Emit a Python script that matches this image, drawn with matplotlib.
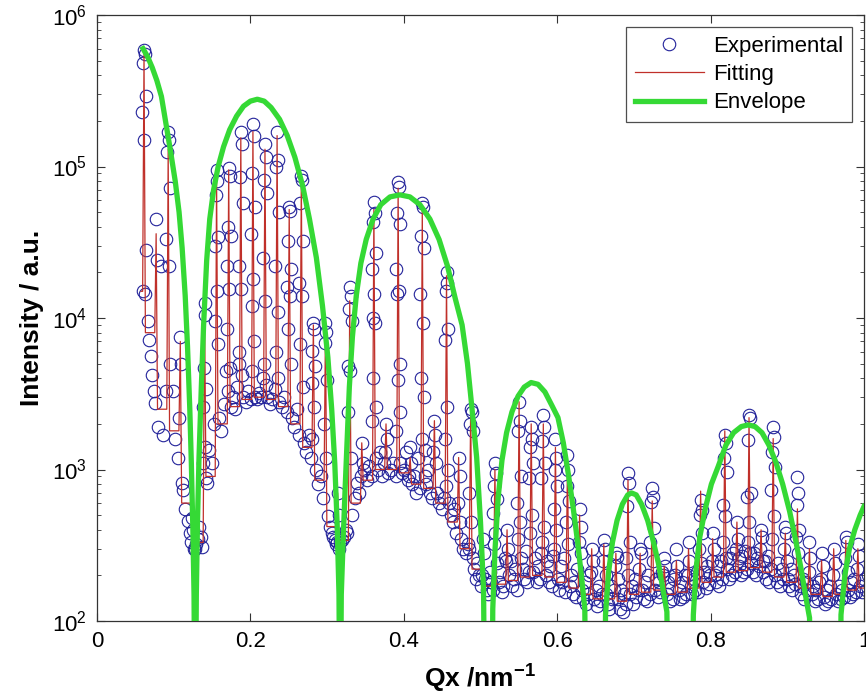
import numpy as np
import matplotlib
matplotlib.use("Agg")
import matplotlib.pyplot as plt
from matplotlib.ticker import FixedLocator, LogLocator, NullLocator


# ------------------------------------------------------------
# 1. Data
# ------------------------------------------------------------

# Superlattice fringe positions along Qx (nm^-1)
fringe_q = [
    0.0613, 0.0771, 0.0928, 0.1086, 0.1244, 0.1402, 0.1559, 0.1717, 0.1875, 0.2033,
    0.2190, 0.2348, 0.2506, 0.2664, 0.2821, 0.2979, 0.3137, 0.3295, 0.3452, 0.3610,
    0.3768, 0.3926, 0.4083, 0.4241, 0.4399, 0.4557, 0.4715, 0.4872, 0.5030, 0.5188,
    0.5346, 0.5503, 0.5661, 0.5819, 0.5977, 0.6134, 0.6292, 0.6450, 0.6608, 0.6765,
    0.6923, 0.7081, 0.7239, 0.7396, 0.7554, 0.7712, 0.7870, 0.8027, 0.8185, 0.8343,
    0.8501, 0.8658, 0.8816, 0.8974, 0.9132, 0.9289, 0.9447, 0.9605, 0.9763, 0.9920,
]

# Fitted intensity at the top of each fringe
fit_peak = [
    5.5e5, 3.6e4, 1.3e5, 7.0e3, 5.0e2, 1.2e4, 8.5e4, 9.5e4, 1.55e5, 1.7e5,
    1.3e5, 1.6e5, 5.2e4, 8.5e4, 9.0e3, 9.0e3, 7.0e2, 1.3e4, 1.5e3, 5.2e4,
    2.0e3, 7.2e4, 1.2e3, 5.3e4, 2.1e3, 1.9e4, 1.2e3, 2.5e3, 3.0e2, 1.0e3,
    4.0e2, 2.8e3, 2.0e3, 2.0e3, 1.4e3, 1.1e3, 5.0e2, 3.0e2, 3.2e2, 2.8e2,
    8.5e2, 2.8e2, 6.2e2, 2.3e2, 2.5e2, 3.0e2, 7.2e2, 3.5e2, 1.8e3, 4.5e2,
    2.2e3, 4.0e2, 1.6e3, 3.8e2, 5.5e2, 3.0e2, 2.5e2, 3.0e2, 3.4e2, 3.0e2,
]

# Fitted trough between fringe n and fringe n+1
fit_start = 1.5e4
fit_floor = [
    8.0e3, 2.5e3, 1.8e3, 6.0e2, 3.3e2, 9.0e2, 2.0e3, 2.6e3, 2.9e3, 3.0e3,
    2.9e3, 2.6e3, 2.0e3, 1.4e3, 8.5e2, 4.2e2, 3.4e2, 6.0e2, 8.5e2, 1.0e3,
    1.0e3, 9.5e2, 8.0e2, 7.5e2, 6.0e2, 4.5e2, 3.0e2, 2.2e2, 1.7e2, 1.75e2,
    1.85e2, 1.95e2, 2.0e2, 1.95e2, 1.8e2, 1.65e2, 1.5e2, 1.4e2, 1.4e2, 1.35e2,
    1.5e2, 1.55e2, 1.6e2, 1.5e2, 1.55e2, 1.65e2, 1.8e2, 1.95e2, 2.1e2, 2.15e2,
    2.25e2, 2.1e2, 1.95e2, 1.8e2, 1.65e2, 1.5e2, 1.45e2, 1.5e2, 1.6e2, 1.65e2,
]

# Measured intensities sampled across each fringe
exp_on_fringe = [
    [5.9e5, 5.5e5, 4.8e5, 2.9e5, 2.3e5, 1.5e5, 1.5e4, 1.45e4],
    [4.5e4, 2.4e4, 2.75e3],
    [1.7e5, 1.5e5, 1.25e5, 7.2e4, 3.3e4, 2.2e4],
    [7.5e3, 5.0e3, 2.2e3, 8.2e2],
    [4.8e2, 4.0e2, 3.3e2, 3.0e2],
    [1.25e4, 1.05e4, 4.7e3, 3.4e3, 2.6e3, 1.4e3, 1.1e3, 8.8e2],
    [9.5e4, 8.0e4, 6.5e4, 3.4e4, 3.0e4, 1.5e4, 9.6e3, 6.7e3],
    [9.8e4, 8.6e4, 4.0e4, 3.5e4, 2.2e4, 1.55e4, 8.5e3, 4.7e3, 3.3e3],
    [1.7e5, 1.4e5, 8.5e4, 5.7e4, 2.2e4, 1.55e4, 6.0e3, 4.2e3],
    [1.9e5, 1.6e5, 9.0e4, 5.4e4, 3.6e4, 1.8e4, 1.2e4, 7.0e3, 4.5e3],
    [1.4e5, 1.15e5, 8.2e4, 6.7e4, 2.5e4, 1.3e4, 5.0e3, 3.6e3],
    [1.7e5, 1.1e5, 1.0e5, 5.0e4, 2.2e4, 1.1e4, 6.0e3, 4.0e3],
    [5.4e4, 5.1e4, 3.2e4, 2.1e4, 1.6e4, 1.4e4, 8.5e3, 5.0e3],
    [8.6e4, 8.2e4, 5.7e4, 3.2e4, 1.7e4, 1.4e4, 6.7e3, 3.5e3],
    [9.2e3, 8.4e3, 6.1e3, 4.8e3, 3.7e3, 2.6e3, 1.6e3],
    [9.3e3, 8.1e3, 6.8e3, 3.9e3, 2.0e3, 1.2e3],
    [7.0e2, 5.0e2, 3.3e2, 3.0e2, 3.2e2],
    [1.6e4, 1.4e4, 1.15e4, 9.5e3, 4.8e3, 4.5e3, 2.4e3, 1.2e3],
    [1.5e3, 1.1e3, 9.0e2],
    [5.8e4, 4.9e4, 4.3e4, 2.7e4, 2.1e4, 1.45e4, 1.0e4, 9.2e3, 4.0e3, 2.6e3, 2.1e3],
    [2.0e3, 1.6e3, 1.3e3],
    [7.9e4, 7.3e4, 4.9e4, 4.2e4, 2.1e4, 1.5e4, 1.45e4, 5.0e3, 3.9e3, 2.4e3, 1.8e3],
    [1.4e3, 1.1e3, 9.0e2],
    [5.7e4, 5.4e4, 3.5e4, 2.9e4, 1.45e4, 9.2e3, 4.0e3, 3.0e3, 1.6e3, 1.35e3],
    [2.1e3, 1.7e3, 1.3e3, 1.1e3],
    [2.0e4, 1.7e4, 1.5e4, 8.5e3, 7.2e3, 2.6e3, 1.6e3, 1.0e3, 7.8e2],
    [1.2e3, 9.0e2, 6.0e2, 4.5e2],
    [2.5e3, 2.4e3, 2.0e3, 1.8e3, 7.0e2, 4.5e2, 3.0e2],
    [3.5e2, 2.8e2, 2.0e2],
    [1.1e3, 9.5e2, 7.8e2, 6.4e2, 5.2e2, 3.8e2, 3.2e2],
    [4.0e2, 3.0e2, 2.5e2],
    [2.8e3, 2.1e3, 1.8e3, 9.0e2, 6.0e2, 4.5e2, 3.5e2],
    [1.9e3, 1.6e3, 1.4e3, 1.1e3, 8.8e2, 5.0e2, 3.8e2],
    [2.3e3, 1.9e3, 1.55e3, 1.1e3, 8.8e2, 4.2e2, 3.3e2],
    [1.6e3, 1.2e3, 1.0e3, 7.8e2, 5.5e2, 4.0e2, 3.0e2],
    [1.25e3, 1.0e3, 7.8e2, 6.2e2, 4.5e2, 3.2e2],
    [5.5e2, 4.2e2, 3.3e2, 2.8e2],
    [3.0e2, 2.5e2, 2.1e2],
    [3.4e2, 3.0e2, 2.5e2, 2.0e2],
    [2.8e2, 2.65e2, 2.3e2, 1.9e2],
    [9.5e2, 8.2e2, 5.7e2, 3.3e2, 2.6e2, 2.0e2],
    [3.0e2, 2.8e2, 2.2e2],
    [7.6e2, 6.6e2, 6.1e2, 4.1e2, 3.3e2, 2.5e2],
    [2.6e2, 2.3e2, 2.0e2],
    [3.0e2, 2.3e2, 2.0e2],
    [3.3e2, 2.5e2, 2.0e2],
    [6.3e2, 5.4e2, 5.0e2, 3.8e2, 3.0e2, 2.4e2],
    [3.8e2, 3.0e2, 2.5e2],
    [1.7e3, 1.5e3, 1.2e3, 9.6e2, 5.8e2, 4.9e2, 3.3e2, 2.6e2],
    [4.5e2, 3.5e2, 3.0e2, 2.6e2],
    [2.3e3, 2.2e3, 1.56e3, 7.0e2, 6.6e2, 4.5e2, 3.3e2, 2.8e2],
    [4.0e2, 3.6e2, 3.0e2, 2.5e2],
    [1.9e3, 1.65e3, 1.3e3, 1.04e3, 7.3e2, 4.9e2, 3.5e2],
    [4.2e2, 3.8e2, 3.0e2, 2.5e2],
    [8.9e2, 7.0e2, 5.8e2, 4.0e2, 3.6e2, 2.8e2],
    [3.3e2, 2.6e2, 2.1e2],
    [2.8e2, 2.3e2, 1.9e2],
    [3.0e2, 2.4e2, 2.0e2],
    [3.6e2, 3.3e2, 2.6e2, 2.1e2],
    [3.2e2, 2.7e2, 2.2e2],
]

# Measured intensities in the gap that follows each fringe
exp_in_gap = [
    [2.8e4, 9.5e3, 7.2e3, 5.6e3, 4.2e3, 3.3e3],
    [1.9e3, 2.2e4, 1.7e3, 3.3e3],
    [5.0e3, 3.3e3, 1.6e3, 1.2e3],
    [7.3e2, 5.5e2, 4.6e2, 3.8e2],
    [3.0e2, 3.2e2, 3.5e2, 4.2e2, 3.6e2, 3.1e2],
    [8.2e2, 1.35e3, 1.1e3, 2.0e3],
    [2.2e3, 1.8e3, 2.7e3, 4.5e3],
    [2.6e3, 3.0e3, 2.5e3, 3.5e3, 5.0e3],
    [3.0e3, 2.8e3, 3.3e3, 2.9e3],
    [3.0e3, 2.9e3, 3.2e3, 3.0e3, 4.0e3],
    [3.0e3, 2.7e3, 2.9e3, 3.4e3],
    [2.8e3, 2.6e3, 3.0e3, 2.4e3],
    [2.2e3, 1.9e3, 2.5e3, 1.7e3],
    [1.5e3, 1.3e3, 1.7e3, 1.2e3],
    [1.0e3, 8.0e2, 9.0e2, 6.5e2],
    [4.9e2, 4.2e2, 3.8e2, 3.6e2, 3.4e2],
    [3.3e2, 3.4e2, 3.6e2, 4.0e2, 3.8e2],
    [5.0e2, 6.5e2, 8.2e2, 7.0e2],
    [1.0e3, 8.5e2, 1.05e3, 9.0e2],
    [1.2e3, 1.0e3, 1.3e3, 9.0e2, 1.1e3],
    [9.5e2, 1.0e3, 1.1e3, 9.0e2],
    [1.1e3, 9.5e2, 1.0e3, 1.3e3, 8.5e2],
    [8.0e2, 9.0e2, 7.0e2, 1.2e3, 7.5e2],
    [9.0e2, 8.0e2, 1.0e3, 7.0e2, 6.5e2],
    [7.0e2, 6.0e2, 5.5e2, 6.5e2],
    [6.0e2, 5.0e2, 4.5e2, 5.5e2, 3.8e2],
    [3.5e2, 3.0e2, 2.8e2, 3.2e2],
    [2.6e2, 2.2e2, 1.9e2, 2.4e2, 2.0e2, 1.7e2],
    [1.9e2, 1.6e2, 1.5e2, 2.1e2, 1.8e2, 1.6e2],
    [2.4e2, 1.8e2, 2.1e2, 1.55e2, 1.7e2, 2.6e2],
    [2.0e2, 2.5e2, 1.7e2, 1.9e2, 2.2e2, 1.6e2],
    [2.6e2, 2.2e2, 1.9e2, 2.9e2, 1.8e2, 2.1e2],
    [2.1e2, 2.6e2, 1.8e2, 2.3e2, 1.9e2, 2.8e2],
    [2.0e2, 2.5e2, 1.8e2, 2.3e2, 1.7e2, 2.7e2],
    [1.9e2, 1.6e2, 2.3e2, 1.8e2, 2.6e2, 1.55e2],
    [1.7e2, 2.0e2, 1.5e2, 1.8e2, 1.45e2, 2.2e2],
    [1.6e2, 1.4e2, 1.8e2, 1.3e2, 1.5e2, 2.0e2],
    [1.4e2, 1.6e2, 1.25e2, 1.7e2, 1.35e2, 1.5e2],
    [1.5e2, 1.3e2, 1.2e2, 1.7e2, 1.4e2, 1.6e2],
    [1.4e2, 1.2e2, 1.6e2, 1.15e2, 1.5e2, 1.3e2],
    [1.5e2, 1.7e2, 1.3e2, 1.9e2, 1.45e2, 1.6e2],
    [1.6e2, 1.4e2, 1.8e2, 1.35e2, 2.0e2, 1.5e2],
    [1.6e2, 1.9e2, 1.45e2, 1.8e2, 1.55e2, 2.1e2],
    [1.5e2, 1.8e2, 1.35e2, 1.65e2, 1.4e2, 1.9e2],
    [1.6e2, 1.4e2, 1.8e2, 1.45e2, 2.0e2, 1.5e2],
    [1.7e2, 1.5e2, 1.9e2, 1.6e2, 2.1e2, 1.55e2],
    [1.8e2, 2.1e2, 1.65e2, 2.3e2, 1.75e2, 2.0e2],
    [2.0e2, 1.8e2, 2.3e2, 1.7e2, 2.5e2, 1.9e2],
    [2.2e2, 1.9e2, 2.6e2, 2.0e2, 2.8e2, 2.1e2],
    [2.3e2, 2.0e2, 2.7e2, 2.1e2, 2.9e2, 2.2e2],
    [2.4e2, 2.1e2, 2.8e2, 2.0e2, 2.6e2, 2.3e2],
    [2.1e2, 2.5e2, 1.9e2, 2.7e2, 1.8e2, 2.2e2],
    [2.0e2, 1.8e2, 2.4e2, 1.7e2, 2.2e2, 1.9e2],
    [1.9e2, 1.7e2, 2.2e2, 1.6e2, 2.0e2, 1.75e2],
    [1.7e2, 1.5e2, 1.9e2, 1.4e2, 1.8e2, 1.6e2],
    [1.5e2, 1.7e2, 1.35e2, 1.6e2, 1.4e2, 1.8e2],
    [1.45e2, 1.3e2, 1.6e2, 1.35e2, 1.7e2, 1.4e2],
    [1.5e2, 1.35e2, 1.7e2, 1.4e2, 1.6e2, 1.45e2],
    [1.6e2, 1.45e2, 1.8e2, 1.5e2, 1.9e2, 1.55e2],
    [1.7e2, 1.55e2, 1.9e2, 1.6e2, 2.0e2],
]

# Envelope of the fringe maxima (one lobe after another, dropping to zero in between)
env_q = [
    0.060, 0.066, 0.072, 0.078, 0.084, 0.090, 0.096, 0.102, 0.107, 0.111,
    0.115, 0.118, 0.121, 0.123, 0.125, 0.1265, 0.128,
    0.1295, 0.131, 0.133, 0.136, 0.139, 0.143, 0.147, 0.152, 0.158, 0.165,
    0.173, 0.182, 0.191, 0.200, 0.209, 0.218, 0.227, 0.238, 0.248, 0.258,
    0.268, 0.277, 0.286, 0.294, 0.301, 0.306, 0.310, 0.313, 0.3155, 0.317,
    0.3185, 0.321, 0.3235, 0.326, 0.329, 0.333, 0.338, 0.344, 0.351, 0.360,
    0.370, 0.382, 0.395, 0.408, 0.421, 0.434, 0.446, 0.457, 0.467, 0.476,
    0.483, 0.489, 0.495, 0.500, 0.504, 0.506,
    0.5145, 0.516, 0.519, 0.523, 0.528, 0.534, 0.541, 0.549, 0.557, 0.566,
    0.575, 0.584, 0.593, 0.601, 0.608, 0.615, 0.621, 0.627, 0.632, 0.636, 0.638,
    0.661, 0.663, 0.667, 0.672, 0.678, 0.685, 0.692, 0.697, 0.703, 0.710,
    0.718, 0.725, 0.732, 0.738, 0.743, 0.746,
    0.775, 0.7775, 0.781, 0.786, 0.793, 0.801, 0.810, 0.820, 0.830, 0.840,
    0.849, 0.858, 0.867, 0.876, 0.885, 0.894, 0.903, 0.911, 0.918, 0.924,
    0.929, 0.932,
    0.9685, 0.970, 0.975, 0.981, 0.988, 0.995, 1.000,
]
env_i = [
    6.0e5, 5.3e5, 4.5e5, 3.7e5, 2.9e5, 1.9e5, 1.25e5, 8.0e4, 5.0e4, 2.9e4,
    1.4e4, 6.5e3, 2.5e3, 1.1e3, 4.0e2, 1.5e2, 1.0e1,
    1.5e2, 4.5e2, 1.2e3, 3.5e3, 9.0e3, 2.4e4, 4.5e4, 7.0e4, 1.0e5, 1.35e5,
    1.75e5, 2.15e5, 2.5e5, 2.7e5, 2.78e5, 2.7e5, 2.45e5, 2.05e5, 1.6e5, 1.15e5,
    7.5e4, 4.5e4, 2.5e4, 1.2e4, 5.5e3, 2.5e3, 1.1e3, 4.5e2, 1.5e2, 1.0e1,
    1.5e2, 3.5e2, 7.5e2, 1.5e3, 3.5e3, 7.5e3, 1.4e4, 2.3e4, 3.3e4, 4.5e4,
    5.6e4, 6.3e4, 6.5e4, 6.3e4, 5.6e4, 4.5e4, 3.3e4, 2.2e4, 1.35e4, 9.0e3,
    5.0e3, 2.5e3, 1.2e3, 4.5e2, 1.6e2, 1.0e1,
    1.0e1, 1.2e2, 3.0e2, 6.5e2, 1.15e3, 1.75e3, 2.4e3, 3.05e3, 3.5e3, 3.75e3,
    3.65e3, 3.25e3, 2.65e3, 2.2e3, 1.5e3, 9.0e2, 5.5e2, 3.2e2, 1.9e2, 1.2e2, 1.0e1,
    1.0e1, 1.1e2, 2.1e2, 3.3e2, 4.6e2, 5.9e2, 6.8e2, 7.0e2, 6.8e2, 5.9e2,
    4.6e2, 3.4e2, 2.4e2, 1.6e2, 1.15e2, 1.0e1,
    1.0e1, 1.1e2, 2.2e2, 3.6e2, 5.5e2, 8.0e2, 1.05e3, 1.45e3, 1.75e3, 1.92e3,
    1.97e3, 1.92e3, 1.75e3, 1.45e3, 1.12e3, 8.0e2, 5.3e2, 3.4e2, 2.2e2, 1.45e2,
    1.05e2, 1.0e1,
    1.0e1, 1.1e2, 2.0e2, 3.0e2, 4.0e2, 5.0e2, 5.7e2,
]


# ------------------------------------------------------------
# 2. Build plotting coordinates
# ------------------------------------------------------------

# half width of a fitted fringe, and horizontal scatter of points within a fringe
FRINGE_HALF_WIDTH = 0.0018
STACK_SPREAD = [0.0, 0.0012, -0.0012, 0.0024, -0.0024, 0.0006,
                -0.0018, 0.0018, -0.0006, 0.003, -0.003, 0.0009]
GAP_MARGIN = 0.003


def build_fit_curve():
    xs = [fringe_q[0] - 0.004]
    ys = [fit_start]
    previous_floor = fit_start

    for q, peak, floor in zip(fringe_q, fit_peak, fit_floor):
        xs += [q - FRINGE_HALF_WIDTH, q, q + FRINGE_HALF_WIDTH]
        ys += [previous_floor, peak, floor]
        previous_floor = floor

    xs.append(1.0)
    ys.append(fit_floor[-1])
    return np.array(xs), np.array(ys)


def build_experimental_points():
    xs = []
    ys = []
    step = fringe_q[-1] - fringe_q[-2]
    next_q = fringe_q[1:] + [fringe_q[-1] + step]

    for n, q in enumerate(fringe_q):
        for k, value in enumerate(exp_on_fringe[n]):
            xs.append(q + STACK_SPREAD[k % len(STACK_SPREAD)])
            ys.append(value)

        gap_values = exp_in_gap[n]
        gap_x = np.linspace(q + GAP_MARGIN, next_q[n] - GAP_MARGIN, len(gap_values))
        xs.extend(gap_x)
        ys.extend(gap_values)

    return np.array(xs), np.array(ys)


# ------------------------------------------------------------
# 3. Plot
# ------------------------------------------------------------

def main():
    plt.rcParams["font.family"] = ["Liberation Sans", "DejaVu Sans"]
    plt.rcParams["mathtext.fontset"] = "custom"
    plt.rcParams["mathtext.rm"] = "Liberation Sans"
    plt.rcParams["mathtext.it"] = "Liberation Sans:italic"
    plt.rcParams["mathtext.bf"] = "Liberation Sans:bold"

    fig = plt.figure(figsize=(8.66, 6.97), dpi=100)
    ax = fig.add_axes([97 / 866, 76 / 697, 767 / 866, 606 / 697])

    exp_x, exp_y = build_experimental_points()
    fit_x, fit_y = build_fit_curve()

    ax.plot(exp_x, exp_y, "o", ms=9, mfc="none", mec="#22229a", mew=0.8,
            label="Experimental", zorder=2)
    ax.plot(fit_x, fit_y, "-", color="#c0302a", lw=0.9, label="Fitting", zorder=3)
    ax.plot(env_q, env_i, "-", color="#35d935", lw=3.8, label="Envelope", zorder=4)

    ax.set_yscale("log")
    ax.set_xlim(0, 1)
    ax.set_ylim(1e2, 1e6)

    ax.xaxis.set_major_locator(FixedLocator([0, 0.2, 0.4, 0.6, 0.8, 1.0]))
    ax.set_xticklabels(["0", "0.2", "0.4", "0.6", "0.8", "1"])
    ax.xaxis.set_minor_locator(NullLocator())
    ax.yaxis.set_major_locator(LogLocator(base=10))
    ax.yaxis.set_minor_locator(LogLocator(base=10, subs=np.arange(2, 10)))

    ax.tick_params(which="both", direction="in", top=True, right=True,
                   color="#333333", labelsize=16)
    ax.tick_params(which="major", length=6, width=0.8, pad=7)
    ax.tick_params(which="minor", length=3, width=0.6)
    for spine in ax.spines.values():
        spine.set_color("#333333")
        spine.set_linewidth(0.9)

    ax.set_xlabel("Qx /nm$^{\\mathbf{-1}}$", fontsize=19, fontweight="bold", labelpad=8)
    ax.set_ylabel("Intensity / a.u.", fontsize=19, fontweight="bold", labelpad=6)

    legend = ax.legend(loc="upper right", fontsize=16, frameon=True, fancybox=False,
                       handlelength=3.1, handletextpad=0.4, labelspacing=0.32,
                       borderpad=0.4, borderaxespad=0.55, numpoints=1)
    legend.get_frame().set_edgecolor("#222222")
    legend.get_frame().set_linewidth(0.9)

    fig.savefig("out.png", dpi=100)


if __name__ == "__main__":
    main()
